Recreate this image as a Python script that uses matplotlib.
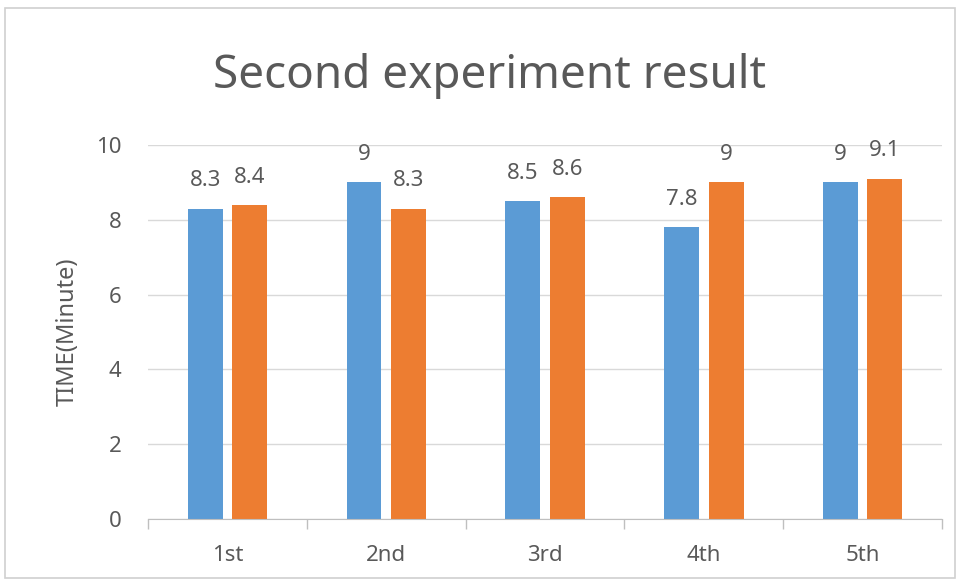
import matplotlib

matplotlib.use("Agg")

import matplotlib.pyplot as plt
import numpy as np
from matplotlib.patches import Rectangle

# Two runs per trial, time in minutes
trials = ["1st", "2nd", "3rd", "4th", "5th"]
run_a = [8.3, 9, 8.5, 7.8, 9]
run_b = [8.4, 8.3, 8.6, 9, 9.1]
y_ticks = [0, 2, 4, 6, 8, 10]

BLUE = "#5B9BD5"
ORANGE = "#ED7D31"
TEXT = "#595959"
GRID = "#D9D9D9"

plt.rcParams["font.family"] = ["Noto Sans", "DejaVu Sans"]

fig = plt.figure(figsize=(9.6, 5.82), dpi=100)
fig.patches.append(
    Rectangle((5 / 960, 4 / 582), 950 / 960, 570 / 582, transform=fig.transFigure,
              fill=False, edgecolor="#D0D0D0", linewidth=1.2)
)

ax = fig.add_axes([148 / 960, 1 - 519 / 582, (942 - 148) / 960, (519 - 145) / 582])

x = np.arange(len(trials))
w = 0.22
off = 0.14
bars_a = ax.bar(x - off, run_a, width=w, color=BLUE, zorder=3)
bars_b = ax.bar(x + off, run_b, width=w, color=ORANGE, zorder=3)

for bars, vals in ((bars_a, run_a), (bars_b, run_b)):
    for b, v in zip(bars, vals):
        ax.annotate(f"{v:g}", (b.get_x() + b.get_width() / 2, v),
                    xytext=(0, 16), textcoords="offset points",
                    ha="center", va="baseline", fontsize=16, color=TEXT)

ax.set_xlim(-0.5, len(trials) - 0.5)
ax.set_ylim(0, 10)
ax.set_yticks(y_ticks)
ax.yaxis.grid(True, color=GRID, linewidth=1.0, zorder=0)
ax.tick_params(axis="y", length=0, pad=19, labelsize=16, labelcolor=TEXT)

# category labels centred, tick marks on the boundaries
ax.set_xticks(x)
ax.set_xticklabels(trials)
ax.tick_params(axis="x", which="major", length=0, pad=19, labelsize=16, labelcolor=TEXT)
ax.set_xticks(np.arange(-0.5, len(trials)), minor=True)
ax.tick_params(axis="x", which="minor", length=7, color="#BFBFBF", width=1)

for side in ("top", "right", "left"):
    ax.spines[side].set_visible(False)
ax.spines["bottom"].set_color("#BFBFBF")
ax.spines["bottom"].set_zorder(4)

ax.set_ylabel("TIME(Minute)", fontsize=17, color=TEXT, labelpad=12)
fig.text(0.51, 1 - 76 / 582, "Second experiment result", ha="center", va="center",
         fontsize=33, color=TEXT)

fig.savefig("out.png", dpi=100)
